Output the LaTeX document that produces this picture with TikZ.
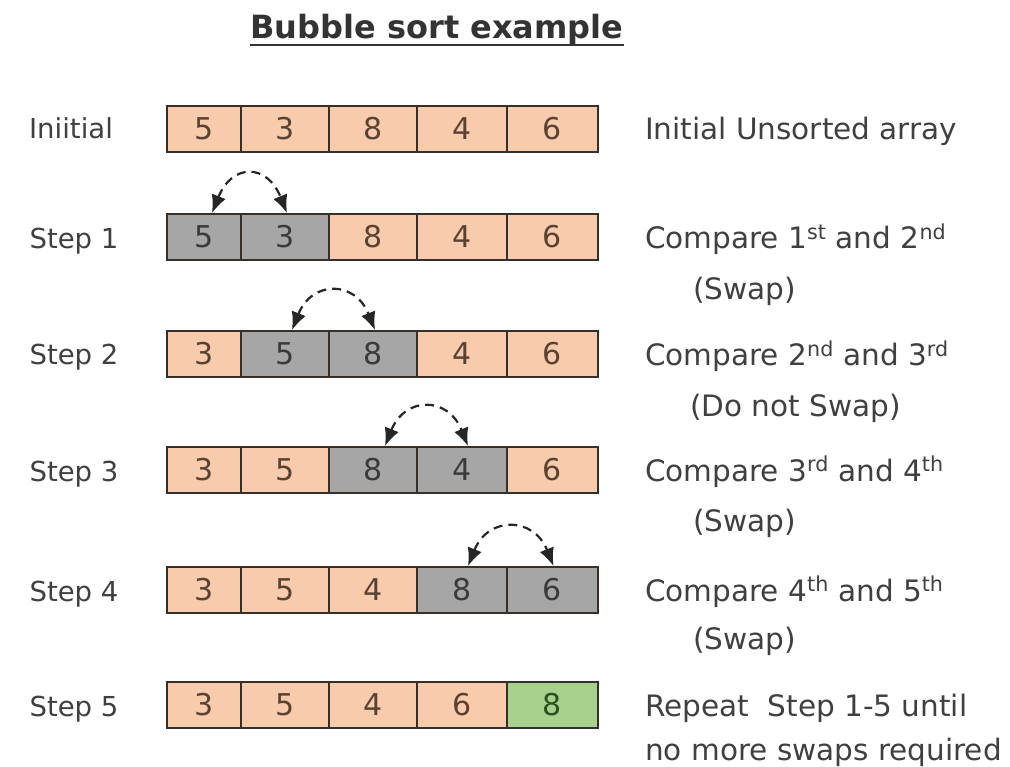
\documentclass[tikz,border=0pt]{standalone}
\usepackage{fontspec}
\setmainfont{DejaVu Sans}
\usetikzlibrary{arrows.meta}
\definecolor{colpe}{HTML}{F8CBAD}
\definecolor{colgr}{HTML}{A6A6A6}
\definecolor{colgn}{HTML}{A9D18E}
\definecolor{txtpe}{HTML}{5A4232}
\definecolor{txtgr}{HTML}{3A3A3A}
\definecolor{txtgn}{HTML}{2A5220}
\definecolor{cellline}{HTML}{35302C}
\definecolor{labcol}{HTML}{404040}
\tikzset{
  cellbox/.style={draw=cellline, line width=1.8pt, minimum height=46pt, inner sep=0pt,
    font=\fontsize{30}{34}\selectfont},
  steplabel/.style={text=labcol, font=\fontsize{27.5}{32}\selectfont, anchor=base, inner sep=0pt},
  note/.style={text=labcol, font=\fontsize{29.5}{34}\selectfont, anchor=base west, inner sep=0pt},
  swaparrow/.style={dash pattern=on 9pt off 6pt, line width=2.2pt, black!85,
    {Latex[length=18pt,width=15pt]}-{Latex[length=18pt,width=15pt]}},
}
\newcommand\arow[7]{%
  \foreach \c/\x/\w/\v/\f in {1/204/74/#3, 2/285/88/#4, 3/373/88/#5, 4/462/90/#6, 5/552.5/91/#7}{
    \node[cellbox, minimum width=\w pt, fill=col\f, text=txt\f] (c#1\c) at (\x,#2) {\v};
  }%
}
\begin{document}
\begin{tikzpicture}[x=1pt,y=-1pt]
\useasboundingbox[fill=white] (0,0) rectangle (1010,767);
% title
\node[anchor=base, text=black!80, font=\fontsize{32}{38}\selectfont\bfseries, inner sep=0pt] (title) at (437,39) {Bubble sort example};
\draw[black!80, line width=2.4pt] ([yshift=-6pt]title.base west) -- ([yshift=-6pt]title.base east);
% rows
\arow{0}{129}{5/pe}{3/pe}{8/pe}{4/pe}{6/pe}
\arow{1}{237}{5/gr}{3/gr}{8/pe}{4/pe}{6/pe}
\arow{2}{354}{3/pe}{5/gr}{8/gr}{4/pe}{6/pe}
\arow{3}{470}{3/pe}{5/pe}{8/gr}{4/gr}{6/pe}
\arow{4}{590}{3/pe}{5/pe}{4/pe}{8/gr}{6/gr}
\arow{5}{705}{3/pe}{5/pe}{4/pe}{6/pe}{8/gn}
% left labels
\node[steplabel] (l0) at (71,139) {Iniitial};
\node[steplabel] (l1) at (74,249) {Step 1};
\node[steplabel] (l2) at (74,365) {Step 2};
\node[steplabel] (l3) at (74,481) {Step 3};
\node[steplabel] (l4) at (74,601) {Step 4};
\node[steplabel] (l5) at (74,716) {Step 5};
% right notes
\node[note] (n0) at (645,140) {Initial Unsorted array};
\node[note] (n1) at (645,249) {Compare 1\textsuperscript{st} and 2\textsuperscript{nd}};
\node[note] (n1b) at (693,300) {(Swap)};
\node[note] (n2) at (645,366) {Compare 2\textsuperscript{nd} and 3\textsuperscript{rd}};
\node[note] (n2b) at (690,417) {(Do not Swap)};
\node[note] (n3) at (645,481) {Compare 3\textsuperscript{rd} and 4\textsuperscript{th}};
\node[note] (n3b) at (693,531) {(Swap)};
\node[note] (n4) at (645,601) {Compare 4\textsuperscript{th} and 5\textsuperscript{th}};
\node[note] (n4b) at (693,649) {(Swap)};
\node[note] (n5) at (645,716) {Repeat\ \ Step 1-5 until};
\node[note] (n5b) at (645,760) {no more swaps required};
% swap arrows
\draw[swaparrow] ([xshift=8pt]c11.north) .. controls +(20,-50) and +(-20,-50) .. ([xshift=2pt]c12.north);
\draw[swaparrow] ([xshift=7pt]c22.north) .. controls +(20,-50) and +(-20,-50) .. ([xshift=2pt]c23.north);
\draw[swaparrow] ([xshift=12pt]c33.north) .. controls +(20,-50) and +(-20,-50) .. ([xshift=6pt]c34.north);
\draw[swaparrow] ([xshift=6pt]c44.north) .. controls +(20,-50) and +(-20,-50) .. ([xshift=1pt]c45.north);
\end{tikzpicture}
\end{document}
